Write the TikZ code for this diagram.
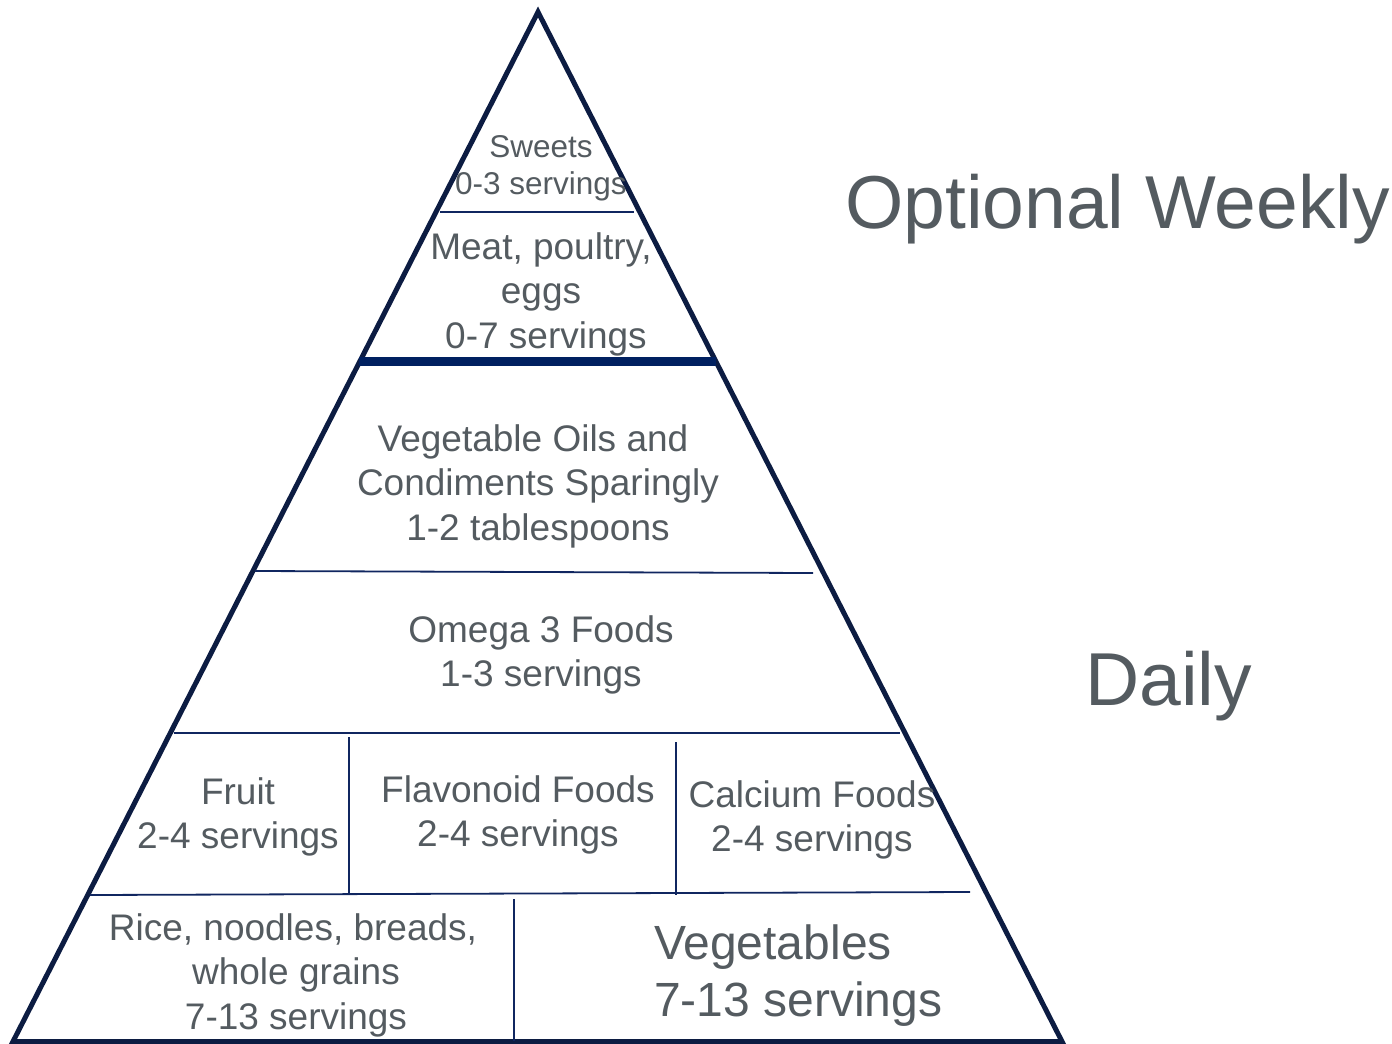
\documentclass[tikz,border=0pt]{standalone}
\usepackage{fontspec}
\setmainfont{Liberation Sans}
\definecolor{navyedge}{RGB}{12,28,66}
\definecolor{navyline}{RGB}{16,38,96}
\definecolor{navythick}{RGB}{0,32,96}
\definecolor{txtgray}{RGB}{84,91,96}
\begin{document}
\begin{tikzpicture}[x=1pt,y=-1pt,
  outline/.style={draw=navyedge,line width=5pt,line join=miter},
  divider/.style={draw=navyline,line width=1.8pt},
  boundary/.style={draw=navythick,line width=9pt},
  label/.style={text=txtgray,align=center,inner sep=0pt},
  fsmall/.style={font=\fontsize{31.5}{37}\selectfont},
  fmid/.style={font=\fontsize{37}{44.5}\selectfont},
  fbig/.style={font=\fontsize{48}{57}\selectfont},
  fhuge/.style={font=\fontsize{75}{88}\selectfont}]
\useasboundingbox (0,0) rectangle (1392,1044);

% pyramid outline
\coordinate (apex) at (538,12);
\coordinate (bl) at (13,1041.5);
\coordinate (br) at (1062,1041.5);
\draw[outline] (apex) -- (bl) -- (br) -- cycle;

% tier dividers
\draw[divider] (440,212) -- (634,212);
\draw[boundary] (359,361) -- (716,361);
\draw[divider] (255,571) -- (813,573);
\draw[divider] (174,733) -- (900,733);
\draw[divider] (349,737) -- (349,893);
\draw[divider] (676,742) -- (676,895);
\draw[divider] (90,895) -- (970,892);
\draw[divider] (514,899) -- (514,1041);

% tier labels
\node[label,fsmall] (sweets) at (541,168) {Sweets\\0-3 servings};
\node[label,fmid] (meat) at (541,294) {Meat, poultry,\\eggs\\\hspace*{10pt}0-7 servings};
\node[label,fmid] (oils) at (538,486) {Vegetable Oils and\hspace*{10pt}\\Condiments Sparingly\\1-2 tablespoons};
\node[label,fmid] (omega) at (541,655) {Omega 3 Foods\\1-3 servings};
\node[label,fmid] (fruit) at (238,817) {Fruit\\2-4 servings};
\node[label,fmid] (flavonoid) at (518,815) {Flavonoid Foods\\2-4 servings};
\node[label,fmid] (calcium) at (812,820) {Calcium Foods\\2-4 servings};
\node[label,fmid] (grains) at (296,975) {Rice, noodles, breads,\hspace*{6pt}\\whole grains\\7-13 servings};
\node[label,fbig,align=left,anchor=west] (veg) at (654,976) {Vegetables\\7-13 servings};

% side headings
\node[label,fhuge,anchor=west] (weekly) at (845,209) {Optional Weekly};
\node[label,fhuge,anchor=west] (daily) at (1085,686) {Daily};
\end{tikzpicture}
\end{document}
